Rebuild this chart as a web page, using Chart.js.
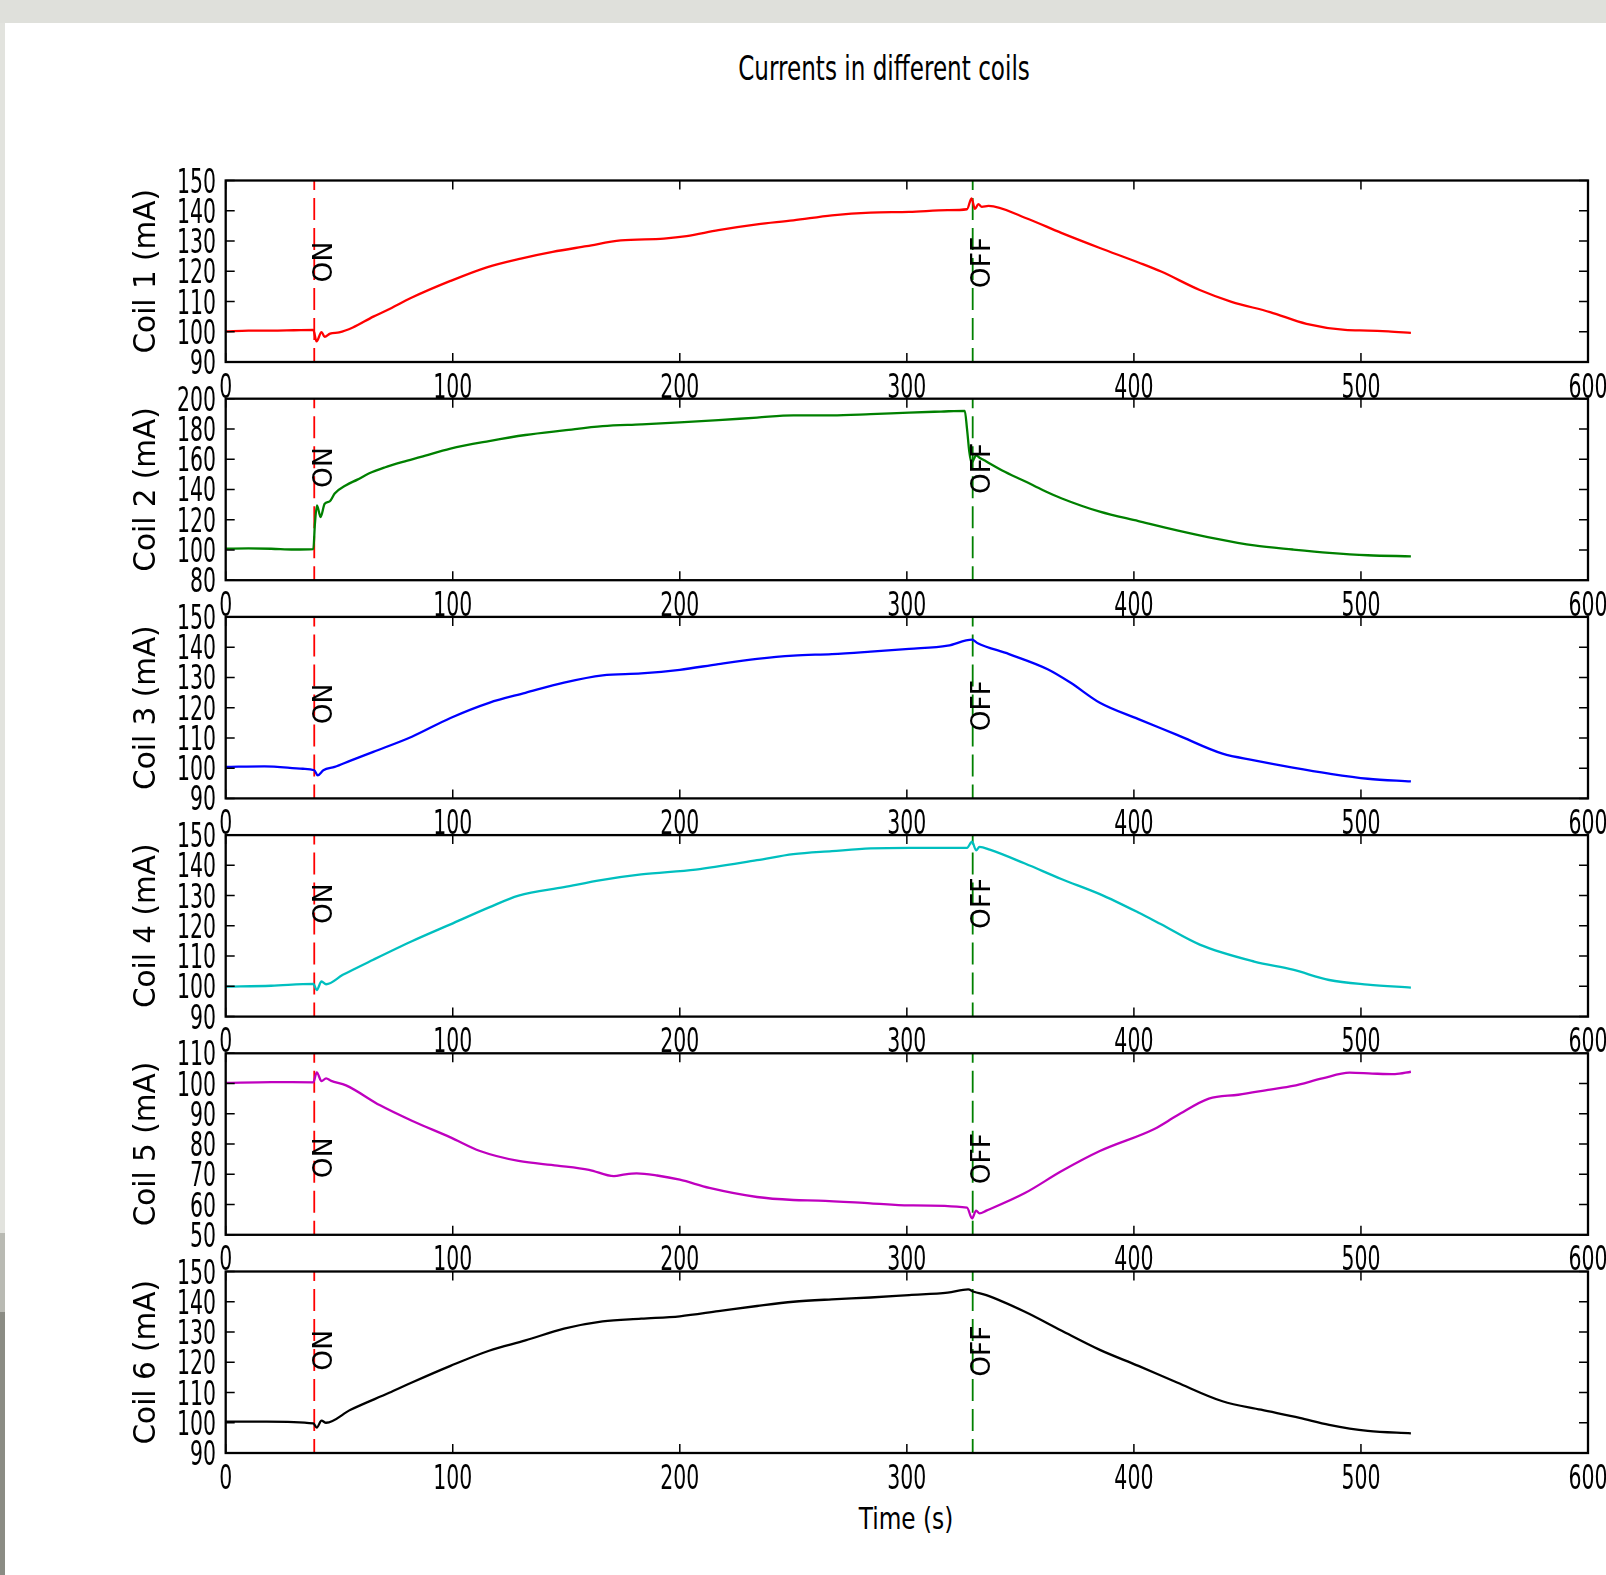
<!DOCTYPE html>
<html>
<head>
<meta charset="utf-8">
<title>Currents in different coils</title>
<script src="https://cdn.jsdelivr.net/npm/chart.js@4.4.0/dist/chart.umd.min.js"></script>
<style>
html, body { margin: 0; padding: 0; background: #fff; overflow: hidden; }
body { position: relative; width: 1606px; height: 1575px; font-family: "DejaVu Sans", sans-serif; }
#topband { position: absolute; left: 0; top: 0; width: 1606px; height: 23px; background: #dfe0db; }
#stripA { position: absolute; left: 0; top: 23px; width: 5px; height: 1210px; background: #e2e3de; }
#stripB { position: absolute; left: 0; top: 1233px; width: 5px; height: 79px; background: #b9bab3; }
#stripC { position: absolute; left: 0; top: 1312px; width: 5px; height: 263px; background: #8b8c84; }
#title { position: absolute; left: 884px; top: 52px; font: 33px/1 "DejaVu Sans"; color: #000;
         white-space: nowrap; transform: translateX(-50%) scaleX(0.70); }
#xlabel { position: absolute; left: 906px; top: 1503px; font: 31px/1 "DejaVu Sans"; color: #000;
          white-space: nowrap; transform: translateX(-50%) scaleX(0.75); }
canvas { position: absolute; left: 0; }
</style>
</head>
<body>
<div id="topband"></div>
<div id="stripA"></div>
<div id="stripB"></div>
<div id="stripC"></div>
<div id="title">Currents in different coils</div>
<div id="xlabel">Time (s)</div>
<div id="plots"></div>

<script>
// ---- data ----
var xMin = 0, xMax = 600, xStep = 100;
var onTime = 39, offTime = 329;

var coilNames = ['Coil 1 (mA)', 'Coil 2 (mA)', 'Coil 3 (mA)', 'Coil 4 (mA)', 'Coil 5 (mA)', 'Coil 6 (mA)'];
var yMins = [90, 80, 90, 90, 50, 90];
var yMaxs = [150, 200, 150, 150, 110, 150];
var ySteps = [10, 20, 10, 10, 10, 10];
// where the ON / OFF words start (in mA of each plot)
var onLabelAt = [116.3, 141, 114.5, 120.6, 68.7, 117.2];
var offLabelAt = [114.4, 137, 112.2, 119, 66.7, 115.2];

var time1 = [0, 10, 20, 30, 38.6, 40, 42.2, 43.6, 46, 50, 56, 65, 71, 82, 99, 115, 130, 144, 159, 174,
             193, 203, 217, 234, 250, 267, 284, 301, 318, 326.5, 328.5, 330, 331.5, 333, 336, 352, 368, 385, 402, 412,
             429, 443, 460, 476, 493, 503, 512, 522];
var coil1 = [100.1, 100.4, 100.4, 100.5, 100.6, 96.8, 99.9, 98.3, 99.4, 99.8, 101.4, 105.0, 107.1, 111.3, 116.8, 121.3, 124.2, 126.4, 128.3, 130.2,
             130.8, 131.6, 133.6, 135.5, 136.8, 138.5, 139.4, 139.6, 140.2, 140.5, 144.1, 140.6, 142.2, 141.3, 141.6, 137.7, 132.7, 127.7, 122.9, 119.9,
             113.8, 109.9, 106.5, 102.6, 100.6, 100.4, 100.1, 99.6];

var time2 = [0, 10, 20, 30, 38.6, 39.3, 40.2, 41.8, 43.6, 45.8, 48, 53, 58, 63, 70, 78, 86, 99, 116, 132,
             149, 166, 183, 200, 217, 234, 250, 267, 284, 301, 315, 325.5, 326.5, 327.5, 328.5, 330.5, 332, 335, 342, 352,
             360, 368, 385, 402, 419, 436, 453, 470, 486, 503, 522];
var coil2 = [100.9, 101.0, 100.8, 100.3, 100.6, 117.4, 129.5, 121.8, 130.6, 132.1, 137.3, 142.8, 146.5, 150.5, 154.5, 158.2, 161.5, 167.0, 172.0, 176.0,
             179.0, 181.8, 183.0, 184.3, 185.8, 187.5, 189.0, 189.0, 189.8, 190.8, 191.5, 192.0, 180.0, 165.0, 157.6, 162.5, 161.0, 158.5, 152.5, 145.4,
             139.5, 134.2, 125.3, 119.1, 113.0, 107.5, 103.0, 100.3, 98.1, 96.5, 95.8];

var time3 = [0, 17, 34, 39, 40.5, 43, 48, 55, 65, 82, 99, 116, 132, 149, 166, 183, 200, 217, 234, 250,
             267, 284, 301, 318, 328.7, 331, 345, 362, 372, 385, 402, 419, 439, 453, 470, 486, 503, 522];
var coil3 = [100.4, 100.6, 99.8, 99.3, 97.6, 99.3, 100.4, 102.5, 105.4, 110.4, 116.6, 121.6, 124.9, 128.3, 130.7, 131.3, 132.5, 134.4, 136.1, 137.2,
             137.7, 138.5, 139.4, 140.5, 142.5, 141.4, 137.7, 132.7, 128.3, 121.6, 116.2, 111.0, 104.8, 102.6, 100.2, 98.2, 96.5, 95.6];

var time4 = [0, 20, 38.6, 40.1, 42.2, 44.2, 51.6, 65, 82, 99, 116, 129, 149, 166, 183, 207, 234, 250, 267, 284,
             301, 326.5, 328.7, 330.5, 332, 336.5, 352, 368, 385, 402, 412, 429, 453, 470, 486, 503, 522];
var coil4 = [99.9, 100.2, 100.8, 98.8, 101.6, 100.7, 103.8, 108.8, 114.9, 120.5, 126.1, 130.0, 132.8, 135.2, 137.0, 138.6, 141.7, 143.7, 144.7, 145.6,
             145.8, 145.8, 147.8, 145.0, 146.1, 145.2, 140.6, 135.5, 130.5, 124.4, 120.5, 113.8, 108.2, 105.5, 102.1, 100.6, 99.6];

var time5 = [0, 20, 38.6, 40.1, 42.2, 44.2, 46.5, 53, 68, 82, 99, 112, 129, 146, 160, 171, 176, 181, 190, 200,
             213, 234, 250, 261, 284, 301, 326.5, 328.7, 330.5, 332, 335, 352, 368, 385, 409, 419, 433, 446, 460, 470,
             483, 495, 505, 515, 522];
var coil5 = [100.2, 100.5, 100.4, 103.7, 100.8, 101.7, 100.9, 99.4, 92.8, 87.7, 82.2, 77.7, 74.4, 72.9, 71.5, 69.4, 70.0, 70.3, 69.6, 68.2,
             65.5, 62.5, 61.5, 61.3, 60.4, 59.7, 59.0, 55.4, 58.0, 57.1, 58.0, 63.8, 71.0, 77.7, 85.0, 89.4, 95.0, 96.3, 98.0, 99.2,
             101.7, 103.6, 103.3, 103.1, 103.9];

var time6 = [0, 18, 38.6, 40.1, 42.2, 44.2, 55, 72, 82, 99, 116, 132, 149, 166, 183, 200, 217, 234, 250, 267,
             284, 301, 318, 327, 329.5, 335, 352, 368, 385, 402, 419, 439, 456, 473, 486, 503, 522];
var coil6 = [100.4, 100.4, 99.8, 98.4, 100.7, 100.0, 104.3, 109.9, 113.3, 118.8, 123.8, 127.2, 131.1, 133.5, 134.4, 135.2, 136.9, 138.6, 140.0, 140.8,
             141.4, 142.2, 143.0, 144.1, 143.3, 142.2, 136.7, 130.5, 124.1, 118.8, 113.3, 107.1, 104.3, 101.6, 99.3, 97.3, 96.5];

var coilTimes = [time1, time2, time3, time4, time5, time6];
var coilValues = [coil1, coil2, coil3, coil4, coil5, coil6];

// ---- look ----
var coilColors = ['#ff0000', '#008000', '#0000ff', '#00bfbf', '#bf00bf', '#000000'];
var firstTop = 180.5, plotGap = 218.2, plotHeight = 181.5;
var axisLeft = 225.7, axisRight = 1588;
var canvasWidth = 1606, canvasHeight = 270;

// draws a word rotated to read upwards, its tops touching x
function drawUpText(ctx, text, x, y) {
    ctx.save();
    ctx.translate(x, y);
    ctx.rotate(-Math.PI / 2);
    ctx.fillText(text, 0, 18.3);
    ctx.restore();
}

// narrow tick label, like the squeezed digits in the picture
function drawNarrowText(ctx, text, x, y, align) {
    ctx.save();
    ctx.translate(x, y);
    ctx.scale(0.62, 1);
    ctx.textAlign = align;
    ctx.fillText(text, 0, 0);
    ctx.restore();
}

var coilPlugin = {
    id: 'coilPlugin',
    beforeDatasetsDraw: function (chart, args, opts) {
        var ctx = chart.ctx;
        var a = chart.chartArea;
        var xs = chart.scales.x;
        // dashed ON / OFF markers
        ctx.save();
        ctx.lineWidth = 1.8;
        ctx.setLineDash([22, 8]);
        ctx.lineDashOffset = 8;
        [[onTime, '#ff0000'], [offTime, '#008000']].forEach(function (ev) {
            var px = xs.getPixelForValue(ev[0]);
            ctx.strokeStyle = ev[1];
            ctx.beginPath();
            ctx.moveTo(px, a.bottom);
            ctx.lineTo(px, a.top);
            ctx.stroke();
        });
        ctx.restore();
    },
    afterDraw: function (chart, args, opts) {
        var ctx = chart.ctx;
        var a = chart.chartArea;
        var xs = chart.scales.x;
        var ys = chart.scales.y;

        ctx.save();
        ctx.fillStyle = '#000';
        ctx.textBaseline = 'alphabetic';
        ctx.textAlign = 'left';
        ctx.font = '26.5px "DejaVu Sans"';
        drawUpText(ctx, 'ON', xs.getPixelForValue(onTime) - 1, ys.getPixelForValue(onLabelAt[opts.idx]));
        drawUpText(ctx, 'OFF', xs.getPixelForValue(offTime) - 1, ys.getPixelForValue(offLabelAt[opts.idx]));

        // box round the plot
        ctx.strokeStyle = '#000';
        ctx.lineWidth = 2.3;
        ctx.strokeRect(a.left, a.top, a.right - a.left, a.bottom - a.top);

        // ticks pointing inwards on all four sides
        ctx.lineWidth = 1.5;
        ctx.beginPath();
        xs.ticks.forEach(function (t) {
            var px = xs.getPixelForValue(t.value);
            ctx.moveTo(px, a.top);
            ctx.lineTo(px, a.top + 9);
            ctx.moveTo(px, a.bottom);
            ctx.lineTo(px, a.bottom - 9);
        });
        ys.ticks.forEach(function (t) {
            var py = ys.getPixelForValue(t.value);
            ctx.moveTo(a.left, py);
            ctx.lineTo(a.left + 9, py);
            ctx.moveTo(a.right, py);
            ctx.lineTo(a.right - 9, py);
        });
        ctx.stroke();

        // tick labels
        ctx.font = '33px "DejaVu Sans"';
        xs.ticks.forEach(function (t) {
            drawNarrowText(ctx, String(t.value), xs.getPixelForValue(t.value), a.bottom + 35.5, 'center');
        });
        ys.ticks.forEach(function (t) {
            drawNarrowText(ctx, String(t.value), a.left - 9.7, ys.getPixelForValue(t.value) + 12, 'right');
        });
        ctx.restore();
    }
};

function createCoilChart(idx) {
    var top = firstTop + idx * plotGap;
    var canvasTop = Math.floor(top) - 30;
    var padTop = top - canvasTop;
    var padBottom = canvasHeight - padTop - plotHeight;

    var canvas = document.createElement('canvas');
    canvas.width = canvasWidth;
    canvas.height = canvasHeight;
    canvas.style.top = canvasTop + 'px';
    document.getElementById('plots').appendChild(canvas);

    var points = coilTimes[idx].map(function (t, i) {
        return { x: t, y: coilValues[idx][i] };
    });

    return new Chart(canvas, {
        type: 'line',
        data: {
            datasets: [{
                label: coilNames[idx],
                data: points,
                borderColor: coilColors[idx],
                borderWidth: 2.3,
                borderJoinStyle: 'round',
                pointRadius: 0,
                cubicInterpolationMode: 'monotone',
                fill: false
            }]
        },
        options: {
            responsive: false,
            animation: false,
            devicePixelRatio: 1,
            layout: {
                padding: { left: 0, right: canvasWidth - axisRight, top: padTop, bottom: padBottom }
            },
            plugins: {
                legend: { display: false },
                tooltip: { enabled: false },
                coilPlugin: { idx: idx }
            },
            scales: {
                x: {
                    type: 'linear',
                    min: xMin,
                    max: xMax,
                    ticks: { display: false, stepSize: xStep },
                    grid: { display: false },
                    border: { display: false },
                    afterFit: function (scale) { scale.height = 0; }
                },
                y: {
                    min: yMins[idx],
                    max: yMaxs[idx],
                    ticks: { display: false, stepSize: ySteps[idx] },
                    grid: { display: false },
                    border: { display: false },
                    title: {
                        display: true,
                        text: coilNames[idx],
                        color: '#000',
                        font: { family: 'DejaVu Sans', size: 29.5, lineHeight: 1 },
                        padding: { top: 133, bottom: 0 }
                    },
                    afterFit: function (scale) { scale.width = axisLeft; }
                }
            }
        },
        plugins: [coilPlugin]
    });
}

for (var i = 0; i < coilNames.length; i++) {
    createCoilChart(i);
}
</script>
</body>
</html>
